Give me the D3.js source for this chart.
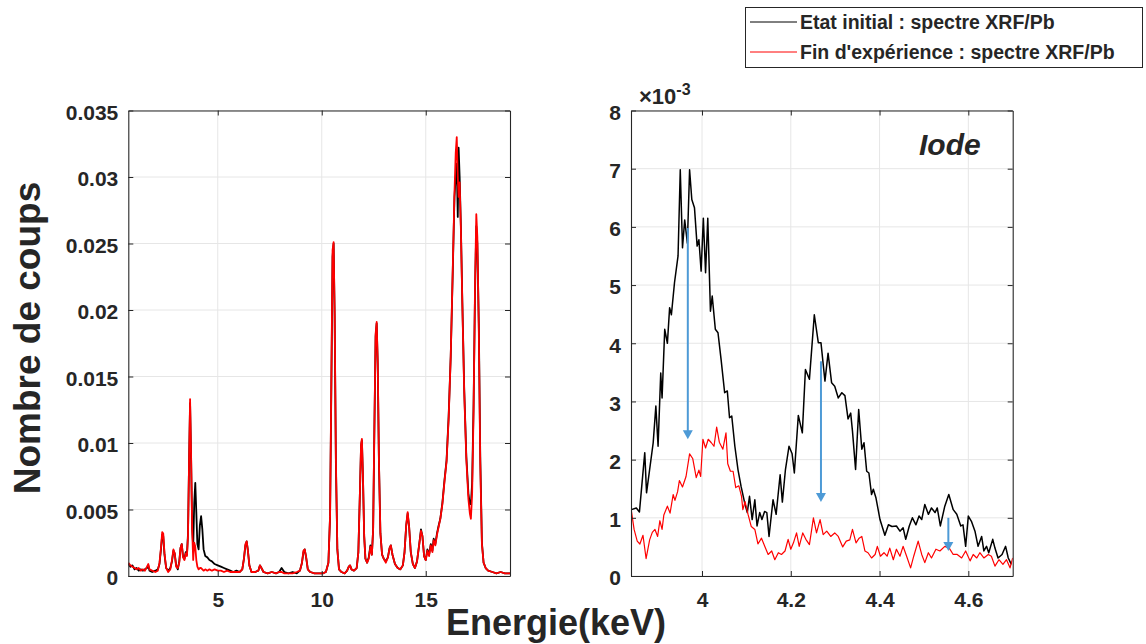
<!DOCTYPE html>
<html><head><meta charset="utf-8">
<script src="https://cdn.jsdelivr.net/npm/d3@7"></script>
<style>
body{margin:0;background:#fff}
svg{display:block}
text{font-family:"Liberation Sans",Arial,Helvetica,sans-serif;font-weight:bold;fill:#262626}
</style>
</head><body>
<svg id="chart" width="1146" height="644"></svg>
<script>
// ---------- DATA ----------
const seriesNames = ["Etat initial : spectre XRF/Pb", "Fin d'expérience : spectre XRF/Pb"];

// Left panel: full spectrum (Energie keV, Nombre de coups)
const leftEnergy = [
0.70,0.80,0.90,1.00,1.10,1.20,1.30,1.40,1.50,1.60,
1.66,1.72,1.85,2.00,2.12,2.20,2.27,2.33,2.38,2.44,
2.52,2.62,2.72,2.80,2.87,2.93,3.00,3.08,3.15,3.21,
3.27,3.33,3.40,3.46,3.52,3.57,3.62,3.67,3.72,3.77,
3.82,3.87,3.92,3.97,4.02,4.08,4.14,4.20,4.26,4.32,
4.40,4.50,4.60,4.72,4.85,5.00,5.15,5.30,5.45,5.60,
5.75,5.90,6.05,6.18,6.26,6.33,6.39,6.45,6.52,6.62,
6.80,6.95,7.03,7.10,7.20,7.40,7.60,7.80,7.95,8.07,
8.20,8.40,8.60,8.80,8.95,9.05,9.12,9.18,9.25,9.33,
9.45,9.65,9.85,10.05,10.20,10.32,10.40,10.46,10.52,10.57,
10.62,10.68,10.75,10.83,10.95,11.10,11.22,11.30,11.36,11.43,
11.55,11.68,11.76,11.83,11.89,11.93,11.98,12.04,12.10,12.18,
12.26,12.34,12.41,12.47,12.53,12.59,12.64,12.69,12.75,12.82,
12.90,12.98,13.08,13.18,13.26,13.32,13.40,13.52,13.65,13.78,
13.90,13.98,14.06,14.13,14.20,14.28,14.38,14.48,14.58,14.68,
14.77,14.84,14.92,15.00,15.08,15.16,15.24,15.32,15.38,15.46,
15.54,15.62,15.70,15.80,15.90,16.00,16.10,16.20,16.30,16.38,
16.44,16.49,16.54,16.58,16.63,16.69,16.76,16.85,16.95,17.05,
17.12,17.17,17.23,17.30,17.37,17.43,17.48,17.55,17.62,17.70,
17.78,17.88,18.00,18.20,18.40,18.60,18.80,19.05];
const leftInitial = [
.0009,.0007,.0008,.0005,.0006,.0004,.0005,.0004,.0005,.0006,
.0008,.0004,.0003,.0004,.0005,.0009,.0020,.0031,.0030,.0016,
.0006,.0004,.0006,.0011,.0019,.0017,.0008,.0005,.0011,.0021,
.0024,.0015,.0013,.0018,.0016,.0032,.0084,.0130,.0088,.0036,
.0022,.0055,.0070,.0048,.0024,.0020,.0038,.0045,.0035,.0020,
.0015,.0014,.0012,.0011,.0009,.0008,.0007,.0006,.0005,.0004,
.0003,.0004,.0003,.0005,.0013,.0023,.0026,.0019,.0008,.0003,
.0003,.0004,.0008,.0006,.0003,.0002,.0003,.0002,.0003,.0006,
.0003,.0002,.0003,.0002,.0004,.0010,.0018,.0020,.0014,.0005,
.0003,.0002,.0002,.0002,.0003,.0010,.0045,.0140,.0240,.0250,
.0195,.0085,.0020,.0005,.0003,.0002,.0004,.0007,.0008,.0005,
.0004,.0006,.0018,.0060,.0098,.0102,.0075,.0030,.0013,.0010,
.0014,.0023,.0016,.0035,.0110,.0180,.0190,.0160,.0085,.0032,
.0016,.0013,.0011,.0014,.0021,.0023,.0016,.0009,.0006,.0005,
.0008,.0018,.0038,.0047,.0037,.0018,.0009,.0006,.0011,.0023,
.0035,.0030,.0015,.0012,.0020,.0016,.0024,.0019,.0028,.0024,
.0032,.0038,.0043,.0055,.0072,.0087,.0120,.0165,.0230,.0285,
.0300,.0310,.0270,.0322,.0300,.0262,.0205,.0140,.0090,.0062,
.0054,.0054,.0070,.0130,.0215,.0263,.0250,.0190,.0090,.0025,
.0010,.0006,.0004,.0003,.0002,.0003,.0002,.0002];
const leftFinal = [
.0010,.0008,.0007,.0006,.0005,.0006,.0004,.0005,.0004,.0007,
.0009,.0005,.0004,.0003,.0004,.0010,.0021,.0033,.0032,.0017,
.0006,.0003,.0005,.0012,.0020,.0017,.0007,.0006,.0010,.0021,
.0024,.0014,.0012,.0017,.0015,.0030,.0085,.0133,.0090,.0035,
.0012,.0025,.0022,.0012,.0007,.0005,.0006,.0006,.0005,.0004,
.0005,.0004,.0005,.0004,.0005,.0004,.0004,.0003,.0004,.0003,
.0003,.0003,.0003,.0005,.0013,.0024,.0026,.0019,.0008,.0003,
.0003,.0004,.0008,.0006,.0003,.0002,.0003,.0002,.0003,.0003,
.0002,.0002,.0002,.0003,.0004,.0010,.0019,.0020,.0014,.0005,
.0003,.0002,.0002,.0002,.0003,.0010,.0045,.0145,.0245,.0251,
.0198,.0088,.0020,.0005,.0003,.0002,.0004,.0007,.0008,.0005,
.0004,.0006,.0018,.0060,.0099,.0103,.0076,.0030,.0013,.0010,
.0013,.0022,.0016,.0035,.0112,.0182,.0191,.0162,.0086,.0032,
.0016,.0013,.0010,.0014,.0021,.0023,.0016,.0009,.0006,.0005,
.0008,.0018,.0038,.0048,.0037,.0018,.0009,.0006,.0011,.0023,
.0034,.0030,.0015,.0012,.0019,.0015,.0023,.0018,.0027,.0023,
.0031,.0037,.0043,.0054,.0071,.0086,.0118,.0165,.0232,.0288,
.0318,.0330,.0300,.0285,.0296,.0260,.0203,.0138,.0088,.0058,
.0047,.0043,.0062,.0125,.0220,.0272,.0255,.0185,.0085,.0024,
.0010,.0006,.0004,.0003,.0002,.0003,.0002,.0002];
const leftXDomain = [0.7, 19.05];
const leftYDomain = [0, 0.035];
const leftXTicks = [5, 10, 15];
const leftYTicks = [0, 0.005, 0.01, 0.015, 0.02, 0.025, 0.03, 0.035];
const leftYTickLabels = ["0", "0.005", "0.01", "0.015", "0.02", "0.025", "0.03", "0.035"];

// Right panel: zoom on iodine lines (values in units of 10^-3)
const rightInitialE = [
3.841,3.852,3.859,3.871,3.875,3.890,3.896,3.901,3.907,3.910,
3.916,3.922,3.927,3.931,3.938,3.946,3.951,3.956,3.961,3.967,
3.972,3.977,3.983,3.989,3.993,3.998,4.003,4.008,4.013,4.019,
4.023,4.030,4.036,4.043,4.051,4.057,4.062,4.067,4.074,4.081,
4.088,4.096,4.102,4.107,4.113,4.119,4.124,4.130,4.135,4.141,
4.146,4.151,4.160,4.167,4.176,4.181,4.188,4.196,4.203,4.208,
4.217,4.226,4.233,4.242,4.253,4.262,4.268,4.277,4.284,4.292,
4.299,4.307,4.315,4.322,4.329,4.335,4.339,4.346,4.353,4.360,
4.365,4.371,4.376,4.382,4.386,4.392,4.401,4.412,4.420,4.428,
4.438,4.446,4.453,4.459,4.467,4.474,4.482,4.489,4.495,4.502,
4.510,4.517,4.525,4.530,4.537,4.547,4.556,4.566,4.574,4.583,
4.588,4.594,4.600,4.607,4.615,4.622,4.630,4.635,4.641,4.646,
4.655,4.660,4.667,4.676,4.684,4.690,4.697];
const rightInitial = [
1.14,1.17,1.10,2.12,1.43,2.29,2.92,2.23,3.49,3.06,
4.24,4.00,4.61,4.49,5.04,5.50,6.98,5.64,6.12,5.72,
6.98,6.47,6.33,5.67,5.78,5.24,6.15,5.21,6.15,4.55,
4.81,4.24,4.18,3.72,3.15,3.18,2.72,2.75,2.23,1.83,
1.54,1.26,1.09,1.37,0.97,1.31,0.86,1.09,0.97,1.11,
1.09,0.68,1.31,1.06,1.74,1.27,1.83,2.23,2.10,1.77,
2.76,2.46,3.55,3.38,4.49,4.01,4.01,3.35,3.83,3.32,
3.26,3.06,3.15,3.10,2.70,2.80,2.49,1.83,2.86,2.18,
2.29,1.80,1.77,1.40,1.49,1.34,0.97,0.70,0.88,0.85,
0.86,0.77,0.83,0.63,0.86,1.00,0.88,1.03,0.97,1.23,
1.06,1.17,1.09,1.17,0.86,1.20,1.40,1.14,1.06,0.86,
0.88,0.51,1.03,0.94,0.77,0.51,0.68,0.43,0.51,0.40,
0.63,0.48,0.31,0.37,0.51,0.31,0.20];
const rightFinalE = [
3.841,3.847,3.854,3.860,3.867,3.874,3.882,3.888,3.894,3.900,
3.905,3.910,3.914,3.922,3.928,3.935,3.939,3.945,3.949,3.956,
3.964,3.972,3.979,3.987,3.993,3.997,4.002,4.008,4.014,4.021,
4.027,4.033,4.039,4.047,4.054,4.058,4.064,4.070,4.076,4.083,
4.089,4.092,4.097,4.104,4.111,4.119,4.126,4.134,4.142,4.149,
4.157,4.164,4.172,4.179,4.187,4.194,4.200,4.206,4.213,4.219,
4.227,4.234,4.242,4.251,4.258,4.266,4.273,4.281,4.290,4.299,
4.307,4.317,4.325,4.333,4.339,4.347,4.354,4.360,4.367,4.374,
4.382,4.390,4.395,4.402,4.410,4.417,4.423,4.431,4.438,4.446,
4.453,4.461,4.470,4.477,4.487,4.495,4.502,4.510,4.517,4.527,
4.536,4.547,4.557,4.566,4.575,4.585,4.594,4.604,4.611,4.619,
4.626,4.635,4.645,4.652,4.660,4.669,4.678,4.686,4.694,4.700];
const rightFinal = [
1.11,0.80,0.60,0.55,0.70,0.30,0.62,0.75,0.80,0.68,
0.95,0.80,1.05,1.20,1.08,1.40,1.30,1.45,1.64,1.53,
1.71,2.10,2.02,1.69,1.82,1.71,2.35,2.20,2.35,2.29,
2.23,2.56,2.30,2.18,2.46,1.93,1.80,1.80,1.52,1.55,
1.37,1.14,1.28,1.05,0.85,0.80,0.55,0.65,0.50,0.37,
0.43,0.28,0.40,0.37,0.43,0.63,0.46,0.57,0.74,0.51,
0.74,0.63,0.54,1.00,0.74,0.97,0.71,0.77,0.68,0.74,
0.68,0.50,0.60,0.62,0.80,0.57,0.65,0.68,0.43,0.40,
0.31,0.37,0.51,0.34,0.40,0.34,0.48,0.28,0.46,0.34,
0.51,0.34,0.14,0.34,0.60,0.37,0.23,0.40,0.31,0.46,
0.43,0.51,0.48,0.37,0.37,0.31,0.43,0.26,0.37,0.31,
0.40,0.31,0.37,0.34,0.17,0.28,0.20,0.28,0.14,0.31];
const rightXDomain = [3.84, 4.70];
const rightYDomain = [0, 8];
const rightXTicks = [4, 4.2, 4.4, 4.6];
const rightYTicks = [0, 1, 2, 3, 4, 5, 6, 7, 8];

// Arrows (energy, start, end) in units of 10^-3
const arrowE = [3.968, 4.268, 4.555];
const arrowFrom = [5.98, 3.69, 1.00];
const arrowTo = [2.35, 1.27, 0.43];

// ---------- DRAWING ----------
const svg = d3.select("#chart");
const AX = "#262626", GRID = "#e6e6e6", ARROW = "#4d9ad6";
const TOP = 110.5, BOTTOM = 576;
const FS = 21;

function zip(E, V) { const n = Math.min(E.length, V.length); const out = []; for (let i = 0; i < n; i++) out.push([E[i], V[i]]); return out; }

function panel(id, x0, x1, xDom, yDom, xTicks, yTicks, yFmt, series) {
  const g = svg.append("g");
  const x = d3.scaleLinear().domain(xDom).range([x0, x1]);
  const y = d3.scaleLinear().domain(yDom).range([BOTTOM, TOP]);
  g.append("clipPath").attr("id", id).append("rect")
    .attr("x", x0).attr("y", TOP).attr("width", x1 - x0).attr("height", BOTTOM - TOP);
  // grid
  g.append("g").selectAll("line").data(xTicks).join("line")
    .attr("x1", d => x(d)).attr("x2", d => x(d)).attr("y1", TOP).attr("y2", BOTTOM)
    .attr("stroke", GRID).attr("stroke-width", 1);
  g.append("g").selectAll("line").data(yTicks).join("line")
    .attr("x1", x0).attr("x2", x1).attr("y1", d => y(d)).attr("y2", d => y(d))
    .attr("stroke", GRID).attr("stroke-width", 1);
  // series
  const line = d3.line().x(d => x(d[0])).y(d => y(d[1]));
  const sg = g.append("g").attr("clip-path", `url(#${id})`);
  series.forEach(s => {
    sg.append("path").datum(s.data).attr("d", line).attr("fill", "none")
      .attr("stroke", s.color).attr("stroke-width", s.width).attr("stroke-linejoin", "round");
  });
  // axes
  const bottom = g.append("g").attr("transform", `translate(0,${BOTTOM})`)
    .call(d3.axisBottom(x).tickValues(xTicks).tickSizeInner(-5).tickSizeOuter(0).tickPadding(16).tickFormat(d3.format("")));
  const left = g.append("g").attr("transform", `translate(${x0},0)`)
    .call(d3.axisLeft(y).tickValues(yTicks).tickSizeInner(-5).tickSizeOuter(0).tickPadding(10).tickFormat(yFmt));
  const top = g.append("g").attr("transform", `translate(0,${TOP})`)
    .call(d3.axisTop(x).tickValues(xTicks).tickSizeInner(-5).tickSizeOuter(0).tickFormat(""));
  const right = g.append("g").attr("transform", `translate(${x1},0)`)
    .call(d3.axisRight(y).tickValues(yTicks).tickSizeInner(-5).tickSizeOuter(0).tickFormat(""));
  [bottom, left, top, right].forEach(a => {
    a.selectAll("path.domain").attr("stroke", AX).attr("stroke-width", 1.1);
    a.selectAll(".tick line").attr("stroke", AX).attr("stroke-width", 1);
    a.selectAll("text").attr("font-size", FS).attr("font-family", null).attr("fill", AX);
  });
  left.selectAll("text").attr("dy", "0.42em");
  return { x, y, g };
}

const L = panel("clipL", 128.3, 510, leftXDomain, leftYDomain, leftXTicks, leftYTicks,
  (d, i) => leftYTickLabels[i],
  [{ data: zip(leftEnergy, leftInitial), color: "#000", width: 1.8 },
   { data: zip(leftEnergy, leftFinal), color: "#ff0000", width: 1.8 }]);

const R = panel("clipR", 631, 1012.7, rightXDomain, rightYDomain, rightXTicks, rightYTicks,
  d3.format(""),
  [{ data: zip(rightInitialE, rightInitial), color: "#000", width: 1.5 },
   { data: zip(rightFinalE, rightFinal), color: "#ff0000", width: 1.2 }]);

// arrows
arrowE.forEach((e, i) => {
  const ax = R.x(e), ya = R.y(arrowFrom[i]), yb = R.y(arrowTo[i]);
  const head = 9, hw = 5;
  R.g.append("line").attr("x1", ax).attr("x2", ax).attr("y1", ya).attr("y2", yb - head + 1)
    .attr("stroke", ARROW).attr("stroke-width", 2);
  R.g.append("path").attr("d", `M${ax - hw},${yb - head} L${ax + hw},${yb - head} L${ax},${yb} Z`)
    .attr("fill", ARROW);
});

// x10^-3 exponent label
const ex = svg.append("text").attr("x", 639).attr("y", 104).attr("font-size", 22);
ex.append("tspan").text("×10");
ex.append("tspan").attr("dy", -9).attr("font-size", 16).text("-3");

// Iode label
svg.append("text").attr("x", 919).attr("y", 155).attr("font-size", 30)
  .attr("font-style", "italic").attr("fill", "#000").text("Iode");

// axis titles
svg.append("text").attr("transform", "translate(40,338) rotate(-90)")
  .attr("text-anchor", "middle").attr("font-size", 37).text("Nombre de coups");
svg.append("text").attr("x", 556).attr("y", 635).attr("text-anchor", "middle")
  .attr("font-size", 36).text("Energie(keV)");

// legend
const lg = svg.append("g");
lg.append("rect").attr("x", 745.5).attr("y", 7.5).attr("width", 397).attr("height", 60)
  .attr("fill", "#fff").attr("stroke", AX).attr("stroke-width", 1);
const legendColors = ["#000", "#ff0000"];
seriesNames.forEach((name, i) => {
  const yy = 22 + i * 30;
  lg.append("line").attr("x1", 750).attr("x2", 797).attr("y1", yy).attr("y2", yy)
    .attr("stroke", legendColors[i]).attr("stroke-width", 1);
  lg.append("text").attr("x", 800).attr("y", yy).attr("dy", "0.36em")
    .attr("font-size", 19.5).attr("fill", "#000").text(name);
});
</script>
</body></html>
